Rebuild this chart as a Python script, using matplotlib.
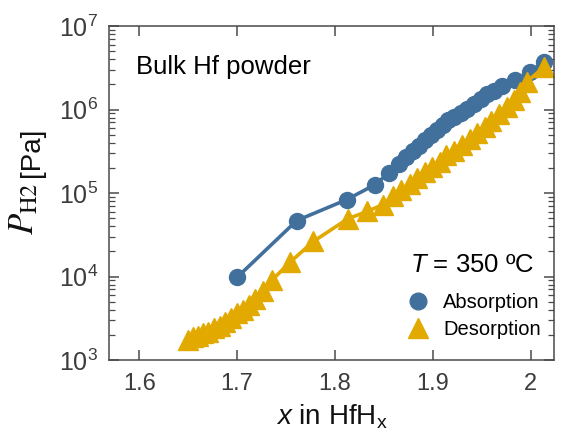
import numpy as np
import matplotlib
matplotlib.use('Agg')
import matplotlib.pyplot as plt
from matplotlib.lines import Line2D
from matplotlib.ticker import LogLocator, NullFormatter

# === Data ===
x_abs = [1.700, 1.761, 1.812, 1.841, 1.855, 1.866, 1.873, 1.880, 1.886, 1.892,
         1.898, 1.904, 1.910, 1.916, 1.922, 1.929, 1.935, 1.942, 1.949, 1.956,
         1.963, 1.971, 1.984, 1.999, 2.014]
logp_abs = [3.99, 4.67, 4.92, 5.10, 5.24, 5.35, 5.43, 5.50, 5.56, 5.63,
            5.69, 5.75, 5.81, 5.87, 5.91, 5.96, 6.01, 6.07, 6.12, 6.18,
            6.22, 6.28, 6.35, 6.45, 6.57]

x_des = [1.650, 1.655, 1.660, 1.665, 1.670, 1.676, 1.682, 1.688, 1.694, 1.700,
         1.706, 1.712, 1.718, 1.726, 1.736, 1.754, 1.778, 1.813, 1.833, 1.849,
         1.859, 1.868, 1.877, 1.884, 1.892, 1.899, 1.907, 1.914, 1.922, 1.930,
         1.938, 1.945, 1.953, 1.960, 1.968, 1.976, 1.983, 1.989, 1.996, 2.014]
logp_des = [3.24, 3.27, 3.29, 3.32, 3.34, 3.38, 3.41, 3.45, 3.50, 3.56,
            3.60, 3.66, 3.73, 3.83, 3.96, 4.17, 4.42, 4.69, 4.78, 4.86,
            4.96, 5.04, 5.11, 5.18, 5.25, 5.31, 5.37, 5.45, 5.50, 5.58,
            5.65, 5.72, 5.79, 5.86, 5.95, 6.03, 6.11, 6.21, 6.33, 6.51]

x_ticks = [1.6, 1.7, 1.8, 1.9, 2.0]
x_ticklabels = ['1.6', '1.7', '1.8', '1.9', '2']

p_abs = 10 ** np.array(logp_abs)
p_des = 10 ** np.array(logp_des)

blue = '#41709C'
gold = '#E2AA00'
axis_grey = '#4a4a4a'
text_grey = '#3c3c3c'

plt.rcParams.update({
    'font.family': ['Liberation Sans', 'DejaVu Sans'],
    'mathtext.fontset': 'custom',
    'mathtext.rm': 'Liberation Sans',
    'mathtext.it': 'Liberation Sans:italic',
    'axes.edgecolor': axis_grey,
})

fig = plt.figure(figsize=(5.63, 4.43), dpi=100)
ax = fig.add_axes([109/563, 83/443, 445/563, 334/443])

ax.plot(x_abs, p_abs, '-o', color=blue, lw=2.6, ms=11.5)
ax.plot(x_des, p_des, '-^', color=gold, lw=2.6, ms=14)

ax.set_yscale('log')
ax.set_xlim(1.569, 2.024)
ax.set_ylim(1e3, 1e7)
ax.set_xticks(x_ticks)
ax.set_xticklabels(x_ticklabels)
ax.yaxis.set_major_locator(LogLocator(base=10, numticks=10))
ax.yaxis.set_minor_locator(LogLocator(base=10, subs=np.arange(2, 10), numticks=10))
ax.yaxis.set_minor_formatter(NullFormatter())

ax.tick_params(which='both', direction='in', top=True, right=True,
               colors=axis_grey, labelcolor=text_grey)
ax.tick_params(axis='x', labelsize=17, pad=9)
ax.tick_params(axis='y', labelsize=18, pad=8)
ax.tick_params(which='major', length=7, width=1.1)
ax.tick_params(which='minor', length=4, width=0.9)
for s in ax.spines.values():
    s.set_linewidth(1.1)

ax.set_xlabel(r'$x$ in HfH$_\mathregular{x}$', fontsize=20, labelpad=6, color='#111111')

# y label: large serif P with subscript, then [Pa] in sans
fig.text(24/563, (443 - 209)/443, r'$P_{\mathrm{H2}}$', rotation=90, fontsize=25,
         math_fontfamily='stix', ha='center', va='center', color='#111111')
fig.text(32/563, (443 - 152)/443, '[Pa]', rotation=90, fontsize=20,
         ha='center', va='center', color='#111111')

fig.text(136/563, (443 - 67)/443, 'Bulk Hf powder', fontsize=18.5,
         va='center', ha='left')
fig.text(410/563, (443 - 265)/443, r'$T$ = 350 ºC', fontsize=18.5,
         va='center', ha='left')

handles = [Line2D([], [], ls='none', marker='o', color=blue, ms=12),
           Line2D([], [], ls='none', marker='^', color=gold, ms=14.5)]
fig.legend(handles, ['Absorption', 'Desorption'], loc='center left',
           bbox_to_anchor=(406/563, (443 - 316)/443), frameon=False,
           fontsize=14.5, handlelength=1.2, handletextpad=0.65,
           labelspacing=0.4, borderpad=0, borderaxespad=0)

fig.savefig('out.png', dpi=100)
